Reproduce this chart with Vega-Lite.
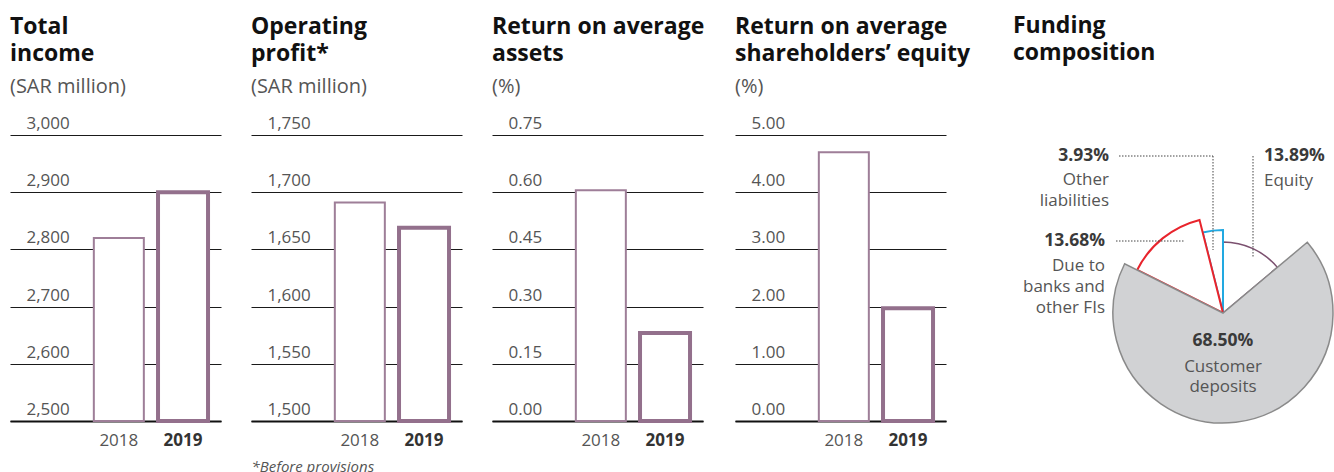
{
  "$schema": "https://vega.github.io/schema/vega-lite/v6.json",
  "background": "white",
  "padding": {"left": 10, "top": 15, "right": 0, "bottom": 0},
  "spacing": 42,
  "datasets": {
    "funding": [
      {"category": "Equity", "share": 13.89, "idx": 1},
      {"category": "Other liabilities", "share": 3.93, "idx": 4},
      {"category": "Due to banks and other FIs", "share": 13.68, "idx": 3},
      {"category": "Customer deposits", "share": 68.5, "idx": 2}
    ],
    "pielabels": [
      {"label": "3.93%", "role": "value", "side": "left", "x": -114, "y": 157},
      {"label": "Other", "role": "name", "side": "left", "x": -114, "y": 133},
      {"label": "liabilities", "role": "name", "side": "left", "x": -114, "y": 112},
      {"label": "13.89%", "role": "value", "side": "right", "x": 41, "y": 157},
      {"label": "Equity", "role": "name", "side": "right", "x": 41, "y": 132},
      {"label": "13.68%", "role": "value", "side": "left", "x": -118, "y": 72},
      {"label": "Due to", "role": "name", "side": "left", "x": -118, "y": 47},
      {"label": "banks and", "role": "name", "side": "left", "x": -118, "y": 26},
      {"label": "other FIs", "role": "name", "side": "left", "x": -118, "y": 5},
      {"label": "68.50%", "role": "value", "side": "center", "x": 0, "y": -28},
      {"label": "Customer", "role": "name", "side": "center", "x": 0, "y": -54},
      {"label": "deposits", "role": "name", "side": "center", "x": 0, "y": -74}
    ],
    "leaders": [
      {"x": -104, "y": 157, "x2": -10, "y2": 157},
      {"x": -10, "y": 157, "x2": -10, "y2": 63},
      {"x": 30, "y": 157, "x2": 30, "y2": 55},
      {"x": -107, "y": 72, "x2": -39, "y2": 72}
    ]
  },
  "config": {
    "font": "Open Sans",
    "view": {"stroke": null},
    "title": {
      "anchor": "start", "frame": "group", "fontSize": 23, "fontWeight": "bold",
      "color": "#111111", "lineHeight": 27, "subtitleFontSize": 20,
      "subtitleColor": "#555555", "subtitleFontWeight": "normal", "subtitlePadding": 11,
      "offset": 18
    },
    "axisY": {
      "grid": true, "gridColor": "#1a1a1a", "gridWidth": 1, "domain": false,
      "ticks": false, "tickSize": 0, "labelAlign": "left", "labelBaseline": "alphabetic",
      "labelPadding": -16, "labelOffset": -6.5, "labelColor": "#555555",
      "labelFontSize": 17, "title": null
    },
    "axisX": {
      "grid": false, "domain": true, "domainColor": "#111111", "domainWidth": 2,
      "ticks": false, "tickSize": 0, "labelPadding": 11, "labelFontSize": 17,
      "labelAngle": 0
    }
  },
  "hconcat": [
    {
      "spacing": 30,
      "hconcat": [
        {
          "width": 211, "height": 286,
          "title": {"text": ["Total", "income"], "subtitle": "(SAR million)"},
          "data": {"values": [{"year": "2018", "value": 2820}, {"year": "2019", "value": 2900}]},
          "mark": {"type": "bar", "fill": "white"},
          "encoding": {
            "x": {"field": "year", "type": "nominal",
              "scale": {"paddingInner": 0.221, "paddingOuter": 0.754, "align": 0.866},
              "axis": {"title": null,
                "labelFontWeight": {"condition": {"test": "datum.value == '2019'", "value": "bold"}, "value": "normal"},
                "labelColor": {"condition": {"test": "datum.value == '2019'", "value": "#333333"}, "value": "#555555"}}},
            "y": {"field": "value", "type": "quantitative",
              "scale": {"domain": [2500, 3000], "zero": false, "nice": false},
              "axis": {"values": [2500, 2600, 2700, 2800, 2900, 3000], "format": ",d"}},
            "y2": {"datum": 2500},
            "stroke": {"condition": {"test": "datum.year == '2019'", "value": "#93708c"}, "value": "#9e7e98"},
            "strokeWidth": {"condition": {"test": "datum.year == '2019'", "value": 4}, "value": 2}
          }
        },
        {
          "width": 211, "height": 286,
          "title": {"text": ["Operating", "profit*"], "subtitle": "(SAR million)"},
          "data": {"values": [{"year": "2018", "value": 1691}, {"year": "2019", "value": 1669}]},
          "mark": {"type": "bar", "fill": "white"},
          "encoding": {
            "x": {"field": "year", "type": "nominal",
              "scale": {"paddingInner": 0.221, "paddingOuter": 0.754, "align": 0.866},
              "axis": {"title": "*Before provisions", "titleFontStyle": "italic", "titleFontWeight": "normal",
                "titleFontSize": 15, "titleColor": "#555555", "titleAnchor": "start", "titlePadding": 11,
                "labelFontWeight": {"condition": {"test": "datum.value == '2019'", "value": "bold"}, "value": "normal"},
                "labelColor": {"condition": {"test": "datum.value == '2019'", "value": "#333333"}, "value": "#555555"}}},
            "y": {"field": "value", "type": "quantitative",
              "scale": {"domain": [1500, 1750], "zero": false, "nice": false},
              "axis": {"values": [1500, 1550, 1600, 1650, 1700, 1750], "format": ",d"}},
            "y2": {"datum": 1500},
            "stroke": {"condition": {"test": "datum.year == '2019'", "value": "#93708c"}, "value": "#9e7e98"},
            "strokeWidth": {"condition": {"test": "datum.year == '2019'", "value": 4}, "value": 2}
          }
        },
        {
          "width": 211, "height": 286,
          "title": {"text": ["Return on average", "assets"], "subtitle": "(%)"},
          "data": {"values": [{"year": "2018", "value": 0.605}, {"year": "2019", "value": 0.231}]},
          "mark": {"type": "bar", "fill": "white"},
          "encoding": {
            "x": {"field": "year", "type": "nominal",
              "scale": {"paddingInner": 0.221, "paddingOuter": 0.754, "align": 0.866},
              "axis": {"title": null,
                "labelFontWeight": {"condition": {"test": "datum.value == '2019'", "value": "bold"}, "value": "normal"},
                "labelColor": {"condition": {"test": "datum.value == '2019'", "value": "#333333"}, "value": "#555555"}}},
            "y": {"field": "value", "type": "quantitative",
              "scale": {"domain": [0, 0.75], "nice": false},
              "axis": {"values": [0, 0.15, 0.3, 0.45, 0.6, 0.75], "format": ".2f"}},
            "y2": {"datum": 0},
            "stroke": {"condition": {"test": "datum.year == '2019'", "value": "#93708c"}, "value": "#9e7e98"},
            "strokeWidth": {"condition": {"test": "datum.year == '2019'", "value": 4}, "value": 2}
          }
        },
        {
          "width": 211, "height": 286,
          "title": {"text": ["Return on average", "shareholders’ equity"], "subtitle": "(%)"},
          "data": {"values": [{"year": "2018", "value": 4.7}, {"year": "2019", "value": 1.97}]},
          "mark": {"type": "bar", "fill": "white"},
          "encoding": {
            "x": {"field": "year", "type": "nominal",
              "scale": {"paddingInner": 0.221, "paddingOuter": 0.754, "align": 0.866},
              "axis": {"title": null,
                "labelFontWeight": {"condition": {"test": "datum.value == '2019'", "value": "bold"}, "value": "normal"},
                "labelColor": {"condition": {"test": "datum.value == '2019'", "value": "#333333"}, "value": "#555555"}}},
            "y": {"field": "value", "type": "quantitative",
              "scale": {"domain": [0, 5], "nice": false},
              "axis": {"values": [0, 1, 2, 3, 4, 5], "format": ".2f"}},
            "y2": {"datum": 0},
            "stroke": {"condition": {"test": "datum.year == '2019'", "value": "#93708c"}, "value": "#9e7e98"},
            "strokeWidth": {"condition": {"test": "datum.year == '2019'", "value": 4}, "value": 2}
          }
        }
      ]
    },
    {
      "width": 322, "height": 286,
      "title": {"text": ["Funding", "composition"], "subtitle": " ", "offset": 39},
      "layer": [
        {
          "data": {"name": "funding"},
          "transform": [
            {"stack": "share", "groupby": [], "sort": [{"field": "idx", "order": "ascending"}], "as": ["t0", "t1"]},
            {"filter": "datum.category == 'Equity'"}
          ],
          "mark": {"type": "arc", "radius": 71, "fill": "white", "stroke": "#7b506f", "strokeWidth": 1.5},
          "encoding": {
            "theta": {"field": "t0", "type": "quantitative", "scale": {"domain": [0, 100]}},
            "theta2": {"field": "t1"},
            "x": {"datum": 0, "type": "quantitative", "scale": {"domain": [-210, 112], "nice": false, "zero": false}, "axis": null},
            "y": {"datum": 0, "type": "quantitative", "scale": {"domain": [-108, 178], "nice": false, "zero": false}, "axis": null}
          }
        },
        {
          "data": {"name": "funding"},
          "transform": [
            {"stack": "share", "groupby": [], "sort": [{"field": "idx", "order": "ascending"}], "as": ["t0", "t1"]},
            {"filter": "datum.category == 'Other liabilities'"}
          ],
          "mark": {"type": "arc", "radius": 83, "fill": "white", "stroke": "#22a9e1", "strokeWidth": 2},
          "encoding": {
            "theta": {"field": "t0", "type": "quantitative"},
            "theta2": {"field": "t1"},
            "x": {"datum": 0, "type": "quantitative"},
            "y": {"datum": 0, "type": "quantitative"}
          }
        },
        {
          "data": {"name": "funding"},
          "transform": [
            {"stack": "share", "groupby": [], "sort": [{"field": "idx", "order": "ascending"}], "as": ["t0", "t1"]},
            {"filter": "datum.category == 'Due to banks and other FIs'"}
          ],
          "mark": {"type": "arc", "radius": 96, "fill": "white", "stroke": "#e8242c", "strokeWidth": 2},
          "encoding": {
            "theta": {"field": "t0", "type": "quantitative"},
            "theta2": {"field": "t1"},
            "x": {"datum": 0, "type": "quantitative"},
            "y": {"datum": 0, "type": "quantitative"}
          }
        },
        {
          "data": {"name": "funding"},
          "transform": [
            {"stack": "share", "groupby": [], "sort": [{"field": "idx", "order": "ascending"}], "as": ["t0", "t1"]},
            {"filter": "datum.category == 'Customer deposits'"}
          ],
          "mark": {"type": "arc", "radius": 110, "fill": "#d1d2d4", "stroke": "#8a8a8a", "strokeWidth": 1.5},
          "encoding": {
            "theta": {"field": "t0", "type": "quantitative"},
            "theta2": {"field": "t1"},
            "x": {"datum": 0, "type": "quantitative"},
            "y": {"datum": 0, "type": "quantitative"}
          }
        },
        {
          "data": {"name": "leaders"},
          "mark": {"type": "rule", "strokeDash": [1.5, 1.5], "color": "#444444", "strokeWidth": 1},
          "encoding": {
            "x": {"field": "x", "type": "quantitative"},
            "y": {"field": "y", "type": "quantitative"},
            "x2": {"field": "x2"},
            "y2": {"field": "y2"}
          }
        },
        {
          "data": {"name": "pielabels"},
          "mark": {"type": "text", "baseline": "middle",
            "fontSize": {"expr": "datum.role == 'value' ? 17.5 : 17"},
            "align": {"expr": "datum.side == 'left' ? 'right' : (datum.side == 'right' ? 'left' : 'center')"},
            "fontWeight": {"expr": "datum.role == 'value' ? 'bold' : 'normal'"},
            "color": {"expr": "datum.role == 'value' ? '#3a3a3a' : '#555555'"}},
          "encoding": {
            "x": {"field": "x", "type": "quantitative"},
            "y": {"field": "y", "type": "quantitative"},
            "text": {"field": "label"}
          }
        }
      ]
    }
  ]
}
